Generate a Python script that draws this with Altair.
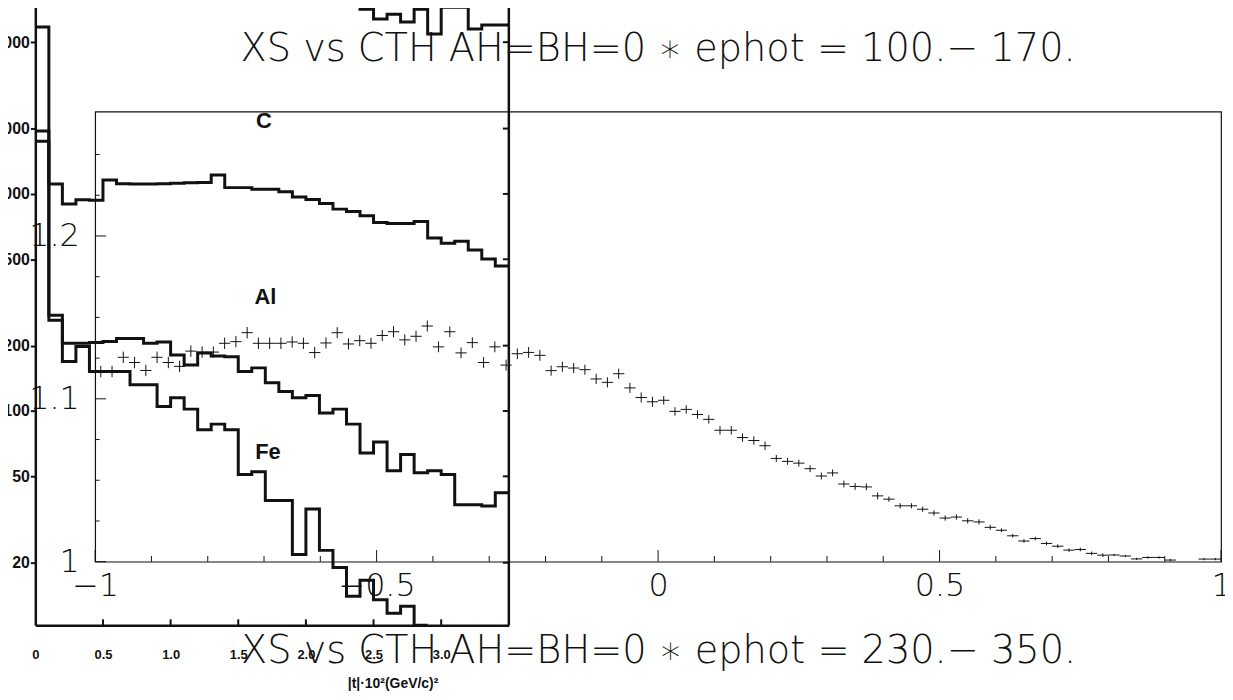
import altair as alt
import pandas as pd

# ---------------- main histogram (crosses) ----------------
N_BINS = 100
X_RANGE = [-1.0, 1.0]
Y_RANGE = [1.0, 1.2764]

XS_VALUES = [
    1.1168, 1.1168, 1.1255, 1.1223, 1.1174, 1.1255, 1.1223, 1.1199, 1.1293, 1.1287,
    1.1287, 1.1341, 1.1351, 1.1406, 1.1341, 1.1341, 1.1341, 1.1349, 1.1341, 1.1284,
    1.1343, 1.1406, 1.1337, 1.1357, 1.1341, 1.1389, 1.1412, 1.1362, 1.1384, 1.1447,
    1.1319, 1.1412, 1.1282, 1.1345, 1.1223, 1.1319, 1.1207, 1.1277, 1.1285, 1.1267,
    1.1173, 1.1197, 1.1189, 1.1179, 1.1122, 1.1101, 1.1154, 1.1067, 1.1008, 1.0982,
    1.0991, 1.0923, 1.0935, 1.0904, 1.0874, 1.0807, 1.0807, 1.0762, 1.0744, 1.0712,
    1.0634, 1.0616, 1.0605, 1.0571, 1.0526, 1.0545, 1.0477, 1.0462, 1.0459, 1.0404,
    1.0384, 1.0343, 1.0343, 1.0322, 1.0299, 1.0268, 1.0274, 1.0251, 1.0244, 1.0211,
    1.0193, 1.0159, 1.0127, 1.0142, 1.0112, 1.0095, 1.0071, 1.0075, 1.0051, 1.0040,
    1.0041, 1.0035, 1.0017, 1.0026, 1.0026, 1.0010, None, None, 1.0016, 1.0016,
]
XS_ERRORS = [
    0.0035, 0.0035, 0.0035, 0.0035, 0.0035, 0.0035, 0.0035, 0.0035, 0.0035, 0.0035,
    0.0035, 0.0035, 0.0035, 0.0035, 0.0035, 0.0035, 0.0035, 0.0035, 0.0035, 0.0035,
    0.0034, 0.0034, 0.0034, 0.0034, 0.0034, 0.0034, 0.0034, 0.0034, 0.0034, 0.0034,
    0.0033, 0.0033, 0.0033, 0.0033, 0.0033, 0.0033, 0.0033, 0.0033, 0.0033, 0.0033,
    0.0031, 0.0031, 0.0031, 0.0031, 0.0031, 0.0031, 0.0031, 0.0031, 0.0031, 0.0031,
    0.0026, 0.0026, 0.0026, 0.0026, 0.0026, 0.0026, 0.0026, 0.0026, 0.0026, 0.0026,
    0.0021, 0.0021, 0.0021, 0.0021, 0.0021, 0.0021, 0.0021, 0.0021, 0.0021, 0.0021,
    0.0016, 0.0016, 0.0016, 0.0016, 0.0016, 0.0016, 0.0016, 0.0016, 0.0016, 0.0016,
    0.0011, 0.0011, 0.0011, 0.0011, 0.0011, 0.0011, 0.0011, 0.0011, 0.0011, 0.0011,
    0.0007, 0.0007, 0.0007, 0.0007, 0.0007, 0.0007, 0.0007, 0.0007, 0.0007, 0.0007,
]

TITLE_TOP = "XS vs CTH AH=BH=0 \u2217 ephot = 100.\u2212 170."
TITLE_BOTTOM = "XS vs CTH AH=BH=0 \u2217 ephot = 230.\u2212 350."

X_MAJOR = [-1.0, -0.5, 0.0, 0.5, 1.0]
X_MINOR = [-0.9, -0.8, -0.7, -0.6, -0.4, -0.3, -0.2, -0.1,
           0.1, 0.2, 0.3, 0.4, 0.6, 0.7, 0.8, 0.9]
Y_MAJOR = [1.0, 1.1, 1.2]
Y_MINOR = [1.025, 1.05, 1.075, 1.125, 1.15, 1.175, 1.225, 1.25]

# ---------------- scanned |t| spectra (C, Al, Fe) ----------------
SCAN_X_RANGE = [0.0, 3.5]
SCAN_Y_RANGE = [10.3, 7640.0]
SCAN_BIN = 0.1
SCAN_C = [5875, 1111, 899, 939, 935, 1159, 1115, 1111, 1111, 1115,
          1120, 1125, 1130, 1222, 1069, 1069, 1051, 1051, 1024, 969,
          942, 903, 851, 830, 793, 739, 731, 731, 747, 627,
          592, 605, 552, 502, 465]
SCAN_AL = [1950, 276, 205, 205, 207, 209, 216, 216, 205, 208,
           181, 163, 185, 179, 178, 152, 158, 135, 123, 115,
           118, 98, 102, 87, 64, 72, 53, 63, 52, 53,
           51, 37, 37, 36.5, 42]
SCAN_FE = [1750, 262, 169, 198, 152, 152, 152, 132, 132, 105,
           115, 102, 82, 87, 82, 51, 52.5, 38.7, 38.7, 21.8,
           35.4, 22.8, 19, 14, 16.6, 13.5, 11.7, 12.6, 10.3]
SCAN_TOP_START = 23
SCAN_TOP = [7600, 7100, 6390, 6730, 6190, 7100, 5455, 7250, 7250, 5750, 5998, 5998]
SCAN_Y_TICKS = [20, 50, 100, 200, 500, 1000, 2000, 5000]
SCAN_X_TICKS = [0.0, 0.5, 1.0, 1.5, 2.0, 2.5, 3.0]
SCAN_X_INNER_TICKS = [0.5, 1.0, 1.5, 2.0, 2.5, 3.0]
SCAN_TEXT = ["C", "Al", "Fe"]
SCAN_TEXT_X = [1.69, 1.70, 1.72]
SCAN_TEXT_Y = [2158, 334, 65]
SCAN_X_TITLE = "|t|\u00b710\u00b2(GeV/c)\u00b2"

# ---------------- layout / style ----------------
W, H = 1133, 453
PAD_LEFT, PAD_TOP = 87.7, 102
SCAN_PX_LEFT, SCAN_PX_RIGHT = -60.2, 416.3
SCAN_PX_BOTTOM, SCAN_PX_TOP = 517.0, -110.0
INK = "#111111"
THIN = "DejaVu Sans"
THIN_W = 200
BOLD = "Liberation Sans Narrow, Liberation Sans, Arial"

# ---------- main data frame ----------
step = (X_RANGE[1] - X_RANGE[0]) / N_BINS
rows = []
for i, (v, e) in enumerate(zip(XS_VALUES, XS_ERRORS)):
    if v is None:
        continue
    lo_edge = X_RANGE[0] + i * step
    rows.append({"x": lo_edge + step / 2, "xl": lo_edge, "xr": lo_edge + step,
                 "v": v, "lo": v - e, "hi": v + e})
df = pd.DataFrame(rows)

main_x = alt.Scale(domain=X_RANGE, nice=False, zero=False)
main_y = alt.Scale(domain=Y_RANGE, nice=False, zero=False)

ax_x = alt.Axis(orient="bottom", values=X_MAJOR, format="~g", ticks=False, tickSize=0,
                domain=False, grid=False, labelFlush=False, labelOverlap=False,
                labelFont=THIN, labelFontSize=32, labelFontWeight=THIN_W, labelColor=INK,
                labelPadding=9, title=TITLE_BOTTOM, titleFont=THIN, titleFontSize=38.5,
                titleFontWeight=THIN_W, titleColor=INK, titleX=W / 2, titleY=101.7,
                titleAlign="center", titleBaseline="alphabetic")
ax_y = alt.Axis(orient="left", values=Y_MAJOR, format="~g", ticks=False, tickSize=0,
                domain=False, grid=False, labelFlush=False, labelOverlap=False,
                labelFont=THIN, labelFontSize=32, labelFontWeight=THIN_W, labelColor=INK,
                labelPadding=16, title=None)

v_rule = alt.Chart(df).mark_rule(color=INK, strokeWidth=1).encode(
    x=alt.X("x:Q", scale=main_x, axis=ax_x),
    y=alt.Y("lo:Q", scale=main_y, axis=ax_y), y2="hi:Q")
h_rule = alt.Chart(df).mark_rule(color=INK, strokeWidth=1).encode(
    x=alt.X("xl:Q", scale=main_x, axis=ax_x), x2="xr:Q",
    y=alt.Y("v:Q", scale=main_y, axis=ax_y))

def xticks(vals, length):
    return alt.Chart(pd.DataFrame({"t": vals})).mark_rule(color=INK, strokeWidth=1).encode(
        x=alt.X("t:Q", scale=main_x, axis=ax_x), y=alt.value(H), y2=alt.value(H - length))

def yticks(vals, length):
    return alt.Chart(pd.DataFrame({"t": vals})).mark_rule(color=INK, strokeWidth=1).encode(
        y=alt.Y("t:Q", scale=main_y, axis=ax_y), x=alt.value(0), x2=alt.value(length))

main = alt.layer(v_rule, h_rule, xticks(X_MAJOR, 11.7), xticks(X_MINOR, 5.7),
                 yticks(Y_MAJOR, 11), yticks(Y_MINOR, 4.5))

# ---------- scan layers ----------
def step_points(name, start_k, values):
    pts = []
    for i, v in enumerate(values):
        pts.append({"series": name, "i": i, "x": SCAN_BIN * (start_k + i), "v": v})
    pts.append({"series": name, "i": len(values),
                "x": SCAN_BIN * (start_k + len(values)), "v": values[-1]})
    return pts

scan_df = pd.DataFrame(step_points("C", 0, SCAN_C) + step_points("Al", 0, SCAN_AL)
                       + step_points("Fe", 0, SCAN_FE)
                       + step_points("top", SCAN_TOP_START, SCAN_TOP))

scan_x = alt.Scale(domain=SCAN_X_RANGE, range=[SCAN_PX_LEFT, SCAN_PX_RIGHT], nice=False, zero=False)
scan_y = alt.Scale(type="log", domain=SCAN_Y_RANGE, range=[SCAN_PX_BOTTOM, SCAN_PX_TOP], nice=False)

ax_sx = alt.Axis(orient="bottom", offset=SCAN_PX_BOTTOM - H, values=SCAN_X_TICKS,
                 labelExpr="datum.value == 0 ? '0' : format(datum.value, '.1f')",
                 ticks=False, tickSize=0, domain=True, domainColor=INK, domainWidth=2.5,
                 grid=False, labelFlush=False, labelOverlap=False, labelFont=BOLD,
                 labelFontSize=13, labelFontWeight="bold", labelColor=INK, labelPadding=23,
                 title=SCAN_X_TITLE, titleFont=BOLD, titleFontSize=14, titleFontWeight="bold",
                 titleColor=INK, titleX=299.3, titleY=63, titleAlign="center",
                 titleBaseline="alphabetic")
ax_sy = alt.Axis(orient="left", offset=-SCAN_PX_LEFT, values=SCAN_Y_TICKS, format="d",
                 tickSize=5, tickWidth=2, tickColor=INK, domain=True, domainColor=INK,
                 domainWidth=2.5, grid=False, labelFlush=False, labelOverlap=False,
                 labelFont=BOLD, labelFontSize=16, labelFontWeight="bold", labelColor=INK,
                 labelPadding=1, title=None)

curves = alt.Chart(scan_df).mark_line(interpolate="step-after", color=INK, strokeWidth=3).encode(
    x=alt.X("x:Q", scale=scan_x, axis=ax_sx),
    y=alt.Y("v:Q", scale=scan_y, axis=ax_sy),
    detail="series:N", order="i:Q")

right_frame = alt.Chart(pd.DataFrame({"x": [SCAN_X_RANGE[1]]})).mark_rule(
    color=INK, strokeWidth=2.5).encode(
    x=alt.X("x:Q", scale=scan_x, axis=ax_sx),
    y=alt.value(SCAN_PX_TOP), y2=alt.value(SCAN_PX_BOTTOM))

right_ticks = alt.Chart(pd.DataFrame({"x": [SCAN_X_RANGE[1]] * len(SCAN_Y_TICKS),
                                      "t": SCAN_Y_TICKS})).mark_tick(
    orient="horizontal", size=6, thickness=2, xOffset=-3, color=INK, opacity=1).encode(
    x=alt.X("x:Q", scale=scan_x, axis=ax_sx),
    y=alt.Y("t:Q", scale=scan_y, axis=ax_sy))

bottom_ticks = alt.Chart(pd.DataFrame({"t": SCAN_X_INNER_TICKS})).mark_rule(
    color=INK, strokeWidth=2).encode(
    x=alt.X("t:Q", scale=scan_x, axis=ax_sx),
    y=alt.value(SCAN_PX_BOTTOM), y2=alt.value(SCAN_PX_BOTTOM - 6))

labels = alt.Chart(pd.DataFrame({"name": SCAN_TEXT, "x": SCAN_TEXT_X, "y": SCAN_TEXT_Y})).mark_text(
    font=BOLD, fontSize=22, fontWeight="bold", color=INK, baseline="middle", align="center").encode(
    x=alt.X("x:Q", scale=scan_x, axis=ax_sx),
    y=alt.Y("y:Q", scale=scan_y, axis=ax_sy),
    text="name:N")

scan = alt.layer(curves, right_frame, right_ticks, bottom_ticks, labels)

# The title is laid out above the full bounds (the scan reaches far above the
# plot); dy brings its baseline back to 48 px above the plot frame.
chart = alt.layer(scan, main).resolve_scale(
    x="independent", y="independent"
).properties(
    width=W, height=H,
    title=alt.TitleParams(text=TITLE_TOP, font=THIN, fontSize=38.5, fontWeight=THIN_W, color=INK,
                          anchor="middle", baseline="alphabetic", offset=0, dy=103.25),
    autosize=alt.AutoSizeParams(type="none"),
    padding={"left": PAD_LEFT, "top": PAD_TOP, "right": 4, "bottom": 137},
).configure_view(stroke=INK, strokeWidth=1.2)

chart.save("out.html", embed_options={"renderer": "svg", "actions": False})
